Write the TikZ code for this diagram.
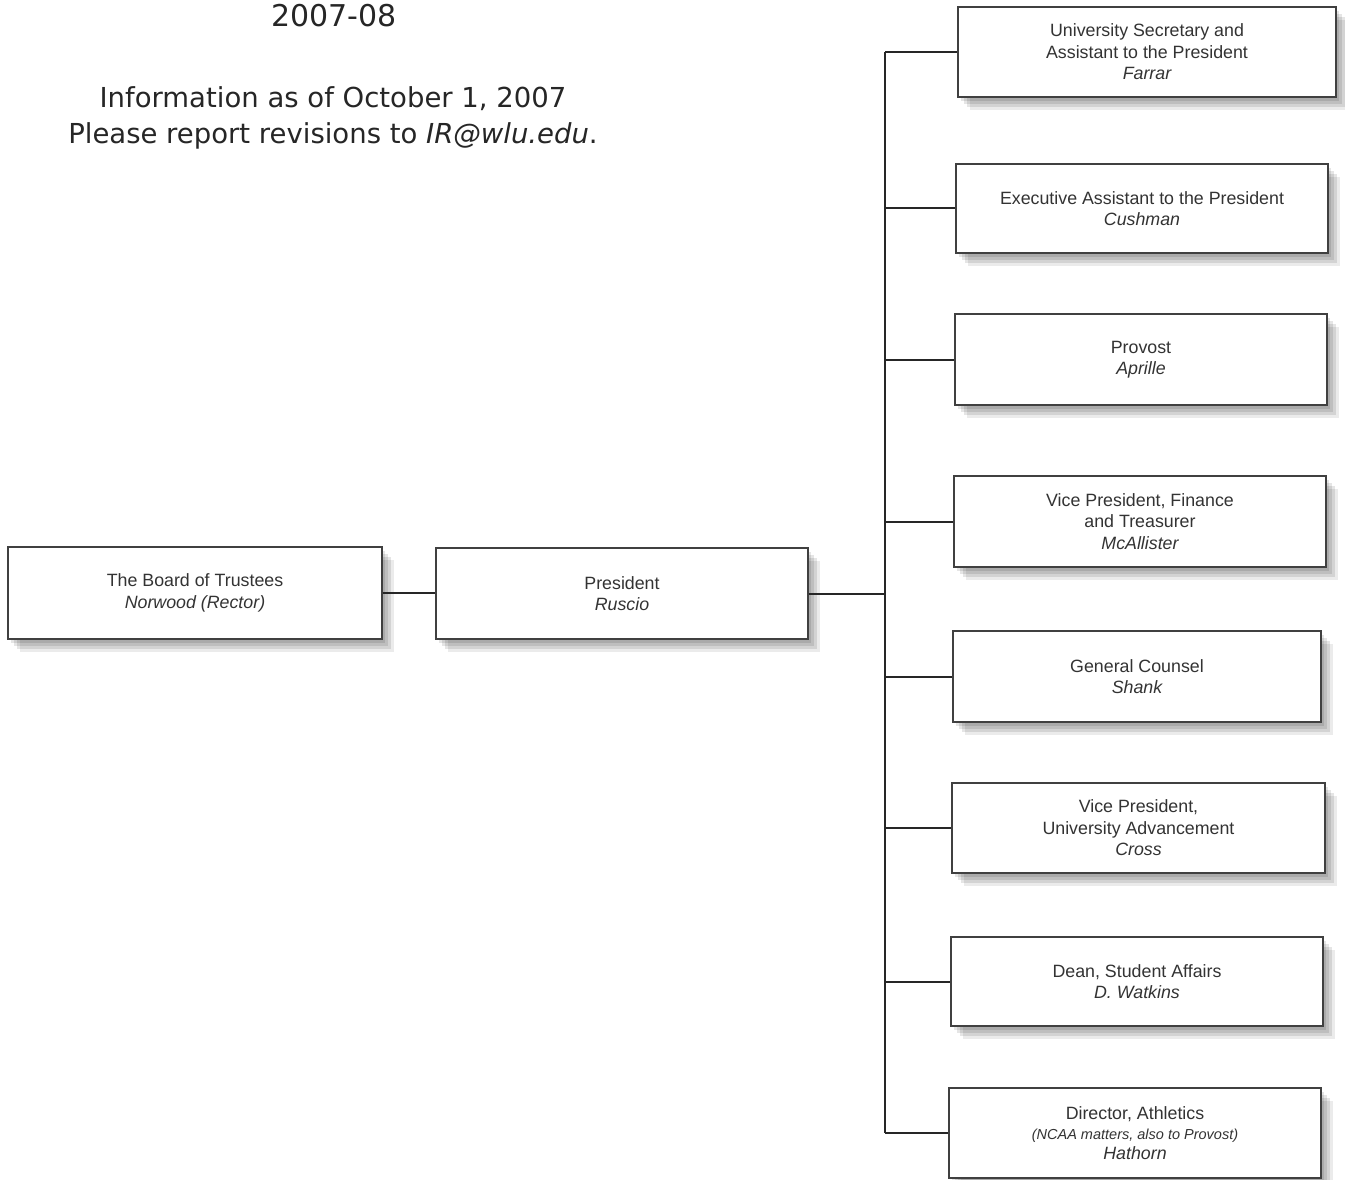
\documentclass[tikz,border=0pt]{standalone}
\usepackage{fontspec}
\setmainfont{Liberation Sans}
\newfontfamily\headfont{DejaVu Sans}
\begin{document}
\begin{tikzpicture}[x=1pt,y=1pt,
  box/.style={draw=black!75, line width=1.3pt, fill=white, rectangle,
    align=center, inner sep=2pt, text=black!80,
    font=\fontsize{17.8}{21.5}\selectfont,
    preaction={fill=black, opacity=0.10, transform canvas={xshift=3pt,yshift=-4pt}},
    preaction={fill=black, opacity=0.10, transform canvas={xshift=6pt,yshift=-7pt}},
    preaction={fill=black, opacity=0.10, transform canvas={xshift=9pt,yshift=-10pt}},
    preaction={fill=black, opacity=0.08, transform canvas={xshift=12pt,yshift=-13pt}}},
  link/.style={draw=black!85, line width=2pt},
  head/.style={font=\headfont\fontsize{27.5}{36}\selectfont, text=black!85, align=center}]

\useasboundingbox (0,0) rectangle (1345,-1180);

% header text
\node[head, font=\headfont\fontsize{30}{36}\selectfont] (year) at (334,-16) {2007-08};
\node[head] (info) at (333,-117.5) {Information as of October 1, 2007\\Please report revisions to \textit{IR@wlu.edu}.};

% left side of the chart
\node[box, minimum width=374pt, minimum height=92pt] (board) at (195,-593)
  {The Board of Trustees\\\itshape Norwood (Rector)};
\node[box, minimum width=372pt, minimum height=91pt] (pres) at (622,-593.5)
  {President\\\itshape Ruscio};

% direct reports
\node[box, minimum width=378pt, minimum height=90pt] (c1) at (1147,-52)
  {University Secretary and\\Assistant to the President\\\itshape Farrar};
\node[box, minimum width=372pt, minimum height=89pt] (c2) at (1142,-208.5)
  {Executive Assistant to the President\\\itshape Cushman};
\node[box, minimum width=372pt, minimum height=91pt] (c3) at (1141,-359.5)
  {Provost\\\itshape Aprille};
\node[box, minimum width=372pt, minimum height=91pt] (c4) at (1140,-521.5)
  {Vice President, Finance\\and Treasurer\\\itshape McAllister};
\node[box, minimum width=368pt, minimum height=91pt] (c5) at (1137,-676.5)
  {General Counsel\\\itshape Shank};
\node[box, minimum width=373pt, minimum height=90pt] (c6) at (1138.5,-828)
  {Vice President,\\University Advancement\\\itshape Cross};
\node[box, minimum width=372pt, minimum height=89pt] (c7) at (1137,-981.5)
  {Dean, Student Affairs\\\itshape D. Watkins};
\node[box, minimum width=372pt, minimum height=90pt, font=\fontsize{17.8}{20}\selectfont] (c8) at (1135,-1133)
  {Director, Athletics\\{\fontsize{14.5}{20}\selectfont\itshape (NCAA matters, also to Provost)}\\\itshape Hathorn};

% connectors
\draw[link] (board.east) -- (board.east -| pres.west);
\coordinate (trunk) at (885,-593.5);
\draw[link] (pres.east) -- (trunk);
\draw[link] (trunk |- c1.west) -- (trunk |- c8.west);
\foreach \c in {c1,c2,c3,c4,c5,c6,c7,c8}
  \draw[link] (trunk |- \c.west) -- (\c.west);
\end{tikzpicture}
\end{document}
